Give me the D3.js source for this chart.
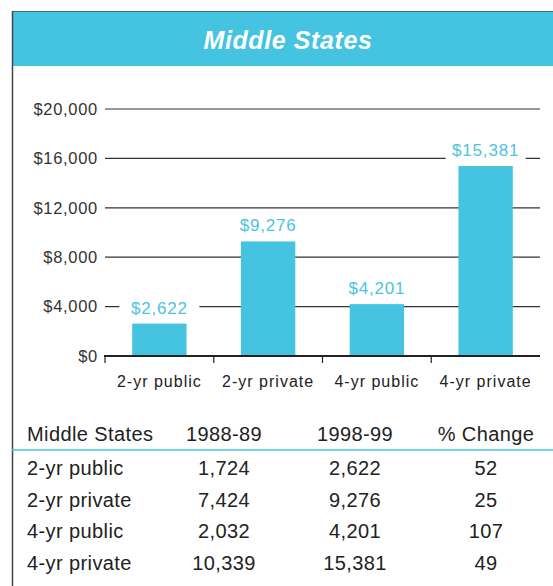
<!DOCTYPE html>
<html><head><meta charset="utf-8">
<script src="https://cdn.jsdelivr.net/npm/d3@7"></script>
<style>body{margin:0;background:#fff}svg{display:block}</style>
</head><body>
<svg id="c" width="553" height="586"></svg>
<script>
const title = "Middle States";
const categories = ["2-yr public","2-yr private","4-yr public","4-yr private"];
const values9899 = [2622, 9276, 4201, 15381];
const values8889 = [1724, 7424, 2032, 10339];
const pctChange = [52, 25, 107, 49];
const yTicks = [0, 4000, 8000, 12000, 16000, 20000];
const tableHeaders = ["Middle States","1988-89","1998-99","% Change"];

const blue = "#45c4e2";
const svg = d3.select("#c");
const font = "Liberation Sans, Arial, Helvetica, sans-serif";

// frame & header
svg.append("rect").attr("x",12).attr("y",11).attr("width",541).attr("height",55).attr("fill",blue);
svg.append("line").attr("x1",12).attr("x2",553).attr("y1",11.5).attr("y2",11.5).attr("stroke","#4a6a70").attr("stroke-width",1);
svg.append("line").attr("x1",12.5).attr("x2",12.5).attr("y1",11).attr("y2",586).attr("stroke","#444").attr("stroke-width",1.5);
svg.append("text").attr("x",288).attr("y",49).attr("text-anchor","middle")
  .attr("font-family",font).attr("font-size",25).attr("font-weight","bold").attr("font-style","italic")
  .attr("letter-spacing",0.6).attr("fill","#fff").text(title);

const y = d3.scaleLinear().domain([0,20000]).range([356,109]);
const x = d3.scaleBand().domain(categories).range([105,540]).paddingInner(0.5).paddingOuter(0.25);

// gridlines
const grid = svg.append("g");
grid.selectAll("line").data(yTicks.filter(d=>d>0)).join("line")
  .attr("x1",105).attr("x2",540).attr("y1",d=>y(d)).attr("y2",d=>y(d))
  .attr("stroke","#333").attr("stroke-width",1.2);

// y labels
const yAxis = d3.axisLeft(y).tickValues(yTicks).tickSize(0).tickPadding(0)
  .tickFormat(d=>"$"+d3.format(",")(d));
const ya = svg.append("g").attr("transform","translate(98,0)").call(yAxis);
ya.select(".domain").remove();
ya.selectAll("text").attr("font-family",font).attr("font-size",16.5).attr("letter-spacing",0.7).attr("fill","#333");

// bars
svg.append("g").selectAll("rect").data(values9899).join("rect")
  .attr("x",(d,i)=>x(categories[i])).attr("width",x.bandwidth())
  .attr("y",d=>y(d)).attr("height",d=>y(0)-y(d)).attr("fill",blue);

// value labels with white backdrop
const lab = svg.append("g").selectAll("g").data(values9899).join("g")
  .attr("transform",(d,i)=>`translate(${x(categories[i])+x.bandwidth()/2},${y(d)-10})`);
lab.append("rect").attr("x",-40).attr("y",-15).attr("width",80).attr("height",19).attr("fill","#fff");
lab.append("text").attr("text-anchor","middle").attr("font-family",font).attr("font-size",17)
  .attr("letter-spacing",0.8).attr("fill","#4cc3df").text(d=>"$"+d3.format(",")(d));

// x axis
const xAxis = d3.axisBottom(x).tickSize(0).tickPadding(20);
const xa = svg.append("g").attr("transform","translate(0,356)").call(xAxis);
xa.select(".domain").remove();
xa.selectAll("text").attr("font-family",font).attr("font-size",16).attr("letter-spacing",1).attr("fill","#222");
svg.append("line").attr("x1",104).attr("x2",540).attr("y1",356).attr("y2",356).attr("stroke","#222").attr("stroke-width",2);
const sepX = [105].concat(categories.slice(1).map(c=>x(c)-x.step()*x.paddingInner()/2));
svg.append("g").selectAll("line").data(sepX).join("line")
  .attr("x1",d=>d).attr("x2",d=>d).attr("y1",356).attr("y2",363).attr("stroke","#222").attr("stroke-width",1.2);

// table
const colX = [27, 224, 355, 486];
const tf = 20;
svg.append("g").selectAll("text").data(tableHeaders).join("text")
  .attr("x",(d,i)=>colX[i]).attr("y",441).attr("text-anchor",(d,i)=>i===0?"start":"middle")
  .attr("font-family",font).attr("font-size",tf).attr("letter-spacing",0.4).attr("fill","#222").text(d=>d);
svg.append("line").attr("x1",12).attr("x2",553).attr("y1",450).attr("y2",450).attr("stroke",blue).attr("stroke-width",1.5);
const rowY = [475, 507, 538, 570];
const rows = svg.append("g").selectAll("g").data(categories).join("g")
  .attr("transform",(d,i)=>`translate(0,${rowY[i]})`);
rows.each(function(c,i){
  const g = d3.select(this);
  const cells = [c, d3.format(",")(values8889[i]), d3.format(",")(values9899[i]), String(pctChange[i])];
  g.selectAll("text").data(cells).join("text")
    .attr("x",(d,j)=>colX[j]).attr("text-anchor",(d,j)=>j===0?"start":"middle")
    .attr("font-family",font).attr("font-size",tf).attr("letter-spacing",0.4).attr("fill","#222").text(d=>d);
});
</script>
</body></html>
